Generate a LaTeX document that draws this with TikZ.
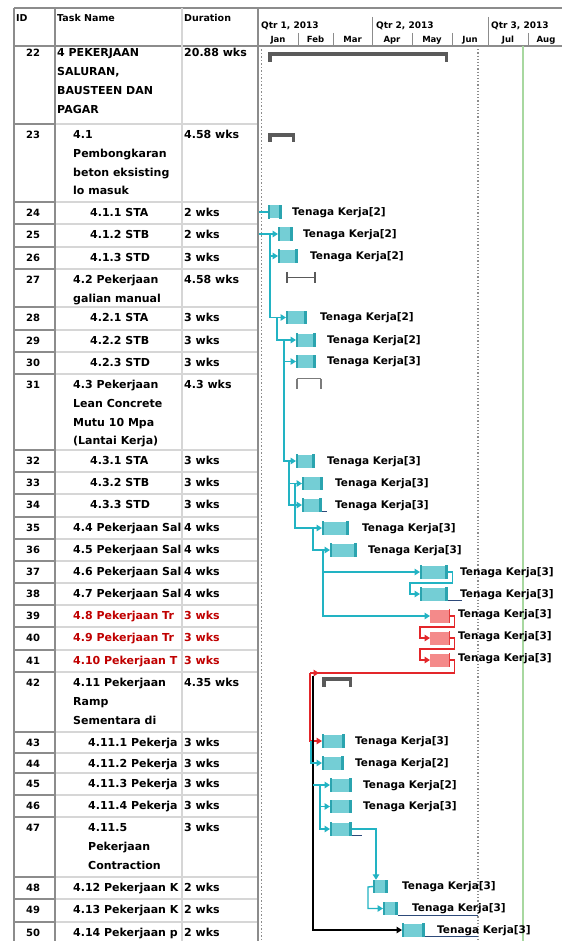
\documentclass[tikz,border=0pt]{standalone}
\usepackage{fontspec}
\setmainfont{DejaVu Sans}
\usetikzlibrary{arrows.meta}
\definecolor{tealfill}{HTML}{74CED5}
\definecolor{tealdark}{HTML}{2BA4AF}
\definecolor{tealline}{HTML}{22B3C3}
\definecolor{redfill}{HTML}{F48A8A}
\definecolor{reddark}{HTML}{E23B3B}
\definecolor{redline}{HTML}{E3262A}
\definecolor{redtext}{HTML}{C00000}
\definecolor{sumgray}{HTML}{5A5A5A}
\definecolor{gridlight}{HTML}{D6D6D6}
\definecolor{griddark}{HTML}{8C8C8C}
\definecolor{greenline}{HTML}{A8D8A0}
\definecolor{slate}{HTML}{2D4A7A}
\newcommand\gbar[5]{\node[#5, minimum width={(#3-#2)*1pt}] (#1) at (#2,#4) {};}
\begin{document}
\begin{tikzpicture}[x=1pt,y=-1pt,
  gridl/.style={draw=gridlight, line width=1.2pt},
  gridd/.style={draw=griddark, line width=1.5pt},
  cell/.style={font=\fontsize{11}{13}\selectfont\bfseries, anchor=base west, inner sep=0},
  idc/.style={font=\fontsize{10}{12}\selectfont\bfseries, anchor=base, inner sep=0},
  hdr/.style={font=\fontsize{9.5}{11}\selectfont\bfseries, anchor=base west, inner sep=0},
  qhdr/.style={font=\fontsize{9}{10}\selectfont\bfseries, anchor=base west, inner sep=0},
  mhdr/.style={font=\fontsize{8.5}{9}\selectfont\bfseries, anchor=base, inner sep=0},
  lab/.style={font=\fontsize{10.5}{12}\selectfont\bfseries, anchor=base west, inner sep=0},
  tbarsty/.style={fill=tealfill, inner sep=0, minimum height=13pt, anchor=west},
  rbarsty/.style={fill=redfill, inner sep=0, minimum height=13pt, anchor=west},
  tconn/.style={draw=tealline, line width=1.4pt, -{Triangle[length=5.5pt,width=6.5pt]}},
  tline/.style={draw=tealline, line width=1.4pt},
  rconn/.style={draw=redline, line width=1.4pt, -{Triangle[length=5.5pt,width=6.5pt]}},
  rline/.style={draw=redline, line width=1.4pt},
  kconn/.style={draw=black, line width=1.4pt, -{Triangle[length=5.5pt,width=6.5pt]}},
  slack/.style={draw=slate, line width=1.3pt},
  sumbar/.style={fill=sumgray, inner sep=0, minimum height=4pt, anchor=north west}
]
\useasboundingbox (0,0) rectangle (562,941);
\fill[white] (0,0) rectangle (562,941);
\begin{scope}
\clip (0,0) rectangle (562,941);
% ---------- grid ----------
\foreach \y in {124,202,224,247,269,307,330,352,374,450,472,494,517,539,561,583,605,627,650,672,732,753,773,795,817,877,899,922}{
  \draw[gridl] (55,\y) -- (258,\y);
  \draw[gridd] (14,\y) -- (55,\y);
}
\draw[gridd] (14,8) -- (562,8);
\draw[gridd] (14,46) -- (562,46);
\draw[gridd] (14,8) -- (14,941);
\draw[gridd] (55,8) -- (55,941);
\draw[gridl] (182,8) -- (182,941);
\draw[gridd] (258,8) -- (258,941);
\draw[griddark, dotted, line width=1.5pt] (261.5,46) -- (261.5,941);
% timescale separators
\foreach \x in {298,333,412,452,528}{ \draw[griddark, line width=0.8pt] (\x,33) -- (\x,46); }
\foreach \x in {372,488}{ \draw[griddark, line width=0.8pt] (\x,17) -- (\x,46); }
% reference lines
\draw[griddark, dotted, line width=1.2pt] (478,46) -- (478,941);
\draw[greenline, line width=1.5pt] (523,46) -- (523,941);
% ---------- headers ----------
\node[hdr] (hid) at (16,22) {ID};
\node[hdr] (htask) at (57,22) {Task Name};
\node[hdr] (hdur) at (184,22) {Duration};
\node[qhdr] (q1) at (261,29) {Qtr 1, 2013};
\node[qhdr] (q2) at (376,29) {Qtr 2, 2013};
\node[qhdr] (q3) at (491,29) {Qtr 3, 2013};
\foreach \m/\x in {Jan/278,Feb/315.5,Mar/352.5,Apr/392,May/432,Jun/470,Jul/508,Aug/546}{
  \node[mhdr] (m\m) at (\x,43) {\m};
}
% ---------- IDs and durations ----------
\foreach \i/\y/\d in {22/57/20.88 wks,23/138.5/4.58 wks,24/216.5/2 wks,25/238.5/2 wks,26/261.5/3 wks,
  27/283.5/4.58 wks,28/321.5/3 wks,29/344.5/3 wks,30/366.5/3 wks,31/388.5/4.3 wks,32/464.5/3 wks,
  33/486.5/3 wks,34/508.5/3 wks,35/531.5/4 wks,36/553.5/4 wks,37/575.5/4 wks,38/597.5/4 wks,
  42/686.5/4.35 wks,43/746.5/3 wks,44/767.5/3 wks,45/787.5/3 wks,46/809.5/3 wks,47/831.5/3 wks,
  48/891.5/2 wks,49/913.5/2 wks,50/936.5/2 wks}{
  \node[idc] (id\i) at (33,\y) {\i};
  \node[cell] (du\i) at (184,\y) {\d};
}
\foreach \i/\y in {39/619.5,40/641.5,41/664.5}{
  \node[idc] (id\i) at (33,\y) {\i};
  \node[cell, text=redtext] (du\i) at (184,\y) {3 wks};
}
% ---------- task names ----------
\node[cell] (n22a) at (57,57) {4 PEKERJAAN};
\node[cell] (n22b) at (57,75.8) {SALURAN,};
\node[cell] (n22c) at (57,94.6) {BAUSTEEN DAN};
\node[cell] (n22d) at (57,113.4) {PAGAR};
\node[cell] (n23a) at (73,138.5) {4.1};
\node[cell] (n23b) at (73,157.3) {Pembongkaran};
\node[cell] (n23c) at (73,176.1) {beton eksisting};
\node[cell] (n23d) at (73,194.9) {lo masuk};
\node[cell] (n24) at (90,216.5) {4.1.1 STA};
\node[cell] (n25) at (90,238.5) {4.1.2 STB};
\node[cell] (n26) at (90,261.5) {4.1.3 STD};
\node[cell] (n27a) at (73,283.5) {4.2 Pekerjaan};
\node[cell] (n27b) at (73,302.3) {galian manual};
\node[cell] (n28) at (90,321.5) {4.2.1 STA};
\node[cell] (n29) at (90,344.5) {4.2.2 STB};
\node[cell] (n30) at (90,366.5) {4.2.3 STD};
\node[cell] (n31a) at (73,388.5) {4.3 Pekerjaan};
\node[cell] (n31b) at (73,407.3) {Lean Concrete};
\node[cell] (n31c) at (73,426.1) {Mutu 10 Mpa};
\node[cell] (n31d) at (73,444.9) {(Lantai Kerja)};
\node[cell] (n32) at (90,464.5) {4.3.1 STA};
\node[cell] (n33) at (90,486.5) {4.3.2 STB};
\node[cell] (n34) at (90,508.5) {4.3.3 STD};
\node[cell] (n35) at (73,531.5) {4.4 Pekerjaan Sal};
\node[cell] (n36) at (73,553.5) {4.5 Pekerjaan Sal};
\node[cell] (n37) at (73,575.5) {4.6 Pekerjaan Sal};
\node[cell] (n38) at (73,597.5) {4.7 Pekerjaan Sal};
\node[cell, text=redtext] (n39) at (73,619.5) {4.8 Pekerjaan Tr};
\node[cell, text=redtext] (n40) at (73,641.5) {4.9 Pekerjaan Tr};
\node[cell, text=redtext] (n41) at (73,664.5) {4.10 Pekerjaan T};
\node[cell] (n42a) at (73,686.5) {4.11 Pekerjaan};
\node[cell] (n42b) at (73,705.3) {Ramp};
\node[cell] (n42c) at (73,724.1) {Sementara di};
\node[cell] (n43) at (88,746.5) {4.11.1 Pekerja};
\node[cell] (n44) at (88,767.5) {4.11.2 Pekerja};
\node[cell] (n45) at (88,787.5) {4.11.3 Pekerja};
\node[cell] (n46) at (88,809.5) {4.11.4 Pekerja};
\node[cell] (n47a) at (88,831.5) {4.11.5};
\node[cell] (n47b) at (88,850.3) {Pekerjaan};
\node[cell] (n47c) at (88,869.1) {Contraction};
\node[cell] (n48) at (73,891.5) {4.12 Pekerjaan K};
\node[cell] (n49) at (73,913.5) {4.13 Pekerjaan K};
\node[cell] (n50) at (73,936.5) {4.14 Pekerjaan p};
% ---------- summary bars ----------
\node[sumbar, minimum width=180pt] (s22) at (268,52) {};
\fill[sumgray] (s22.north west) rectangle ++(3.5,10);
\fill[sumgray] (s22.north east) rectangle ++(-3.5,10);
\node[sumbar, minimum width=27pt] (s23) at (268,133) {};
\fill[sumgray] (s23.north west) rectangle ++(3.5,9);
\fill[sumgray] (s23.north east) rectangle ++(-3.5,9);
\node[sumbar, minimum width=30pt] (s42) at (322,677) {};
\fill[sumgray] (s42.north west) rectangle ++(3.5,10);
\fill[sumgray] (s42.north east) rectangle ++(-3.5,10);
\node[inner sep=0, minimum width=28pt, minimum height=11pt] (s27) at (301,277.5) {};
\draw[sumgray, line width=1.6pt] (s27.west) -- (s27.east);
\draw[sumgray, line width=2.2pt] (s27.north west) -- (s27.south west);
\draw[sumgray, line width=2.2pt] (s27.north east) -- (s27.south east);
\node[inner sep=0, minimum width=24pt, minimum height=10pt] (s31) at (309,384) {};
\draw[sumgray!80, line width=1.2pt] (s31.north west) -- (s31.north east);
\draw[sumgray!80, line width=1.6pt] (s31.north west) -- (s31.south west);
\draw[sumgray!80, line width=1.6pt] (s31.north east) -- (s31.south east);
% ---------- task bars ----------
\gbar{b24}{268}{282}{212}{tbarsty}
\gbar{b25}{278}{293}{234}{tbarsty}
\gbar{b26}{278}{298}{256}{tbarsty}
\gbar{b28}{286}{307}{317.5}{tbarsty}
\gbar{b29}{296}{316}{340}{tbarsty}
\gbar{b30}{296}{316}{361.5}{tbarsty}
\gbar{b32}{296}{315}{461}{tbarsty}
\gbar{b33}{302}{323}{483.5}{tbarsty}
\gbar{b34}{302}{322}{505}{tbarsty}
\gbar{b35}{322}{349}{528}{tbarsty}
\gbar{b36}{330}{357}{550}{tbarsty}
\gbar{b37}{420}{448}{572}{tbarsty}
\gbar{b38}{420}{448}{594}{tbarsty}
\gbar{r39}{430}{450}{616}{rbarsty}
\gbar{r40}{430}{450}{638}{rbarsty}
\gbar{r41}{430}{450}{660}{rbarsty}
\gbar{b43}{322}{345}{741}{tbarsty}
\gbar{b44}{322}{344}{763}{tbarsty}
\gbar{b45}{330}{352}{785}{tbarsty}
\gbar{b46}{330}{352}{806.5}{tbarsty}
\gbar{b47}{330}{352}{829}{tbarsty}
\gbar{b48}{373}{388}{886.5}{tbarsty}
\gbar{b49}{383}{398}{908.5}{tbarsty}
\gbar{b50}{402}{425}{930}{tbarsty}
\foreach \b in {b24,b25,b26,b28,b29,b30,b32,b33,b34,b35,b36,b37,b38,b43,b44,b45,b46,b47,b48,b49,b50}{
  \fill[tealdark] (\b.north east) rectangle ([xshift=-3pt]\b.south east);
  \fill[tealdark] (\b.north west) rectangle ([xshift=1.5pt]\b.south west);
}
\foreach \b in {r39,r40,r41}{
  \fill[reddark] (\b.north east) rectangle ([xshift=-1.5pt]\b.south east);
}
% ---------- resource labels ----------
\node[lab] (l24) at (292,215) {Tenaga Kerja[2]};
\node[lab] (l25) at (303,237) {Tenaga Kerja[2]};
\node[lab] (l26) at (310,259) {Tenaga Kerja[2]};
\node[lab] (l28) at (320,320.5) {Tenaga Kerja[2]};
\node[lab] (l29) at (327,343) {Tenaga Kerja[2]};
\node[lab] (l30) at (327,364.5) {Tenaga Kerja[3]};
\node[lab] (l32) at (327,464) {Tenaga Kerja[3]};
\node[lab] (l33) at (335,486.5) {Tenaga Kerja[3]};
\node[lab] (l34) at (335,508) {Tenaga Kerja[3]};
\node[lab] (l35) at (362,531) {Tenaga Kerja[3]};
\node[lab] (l36) at (368,553) {Tenaga Kerja[3]};
\node[lab] (l37) at (460,575) {Tenaga Kerja[3]};
\node[lab] (l38) at (460,597) {Tenaga Kerja[3]};
\node[lab] (l39) at (458,617) {Tenaga Kerja[3]};
\node[lab] (l40) at (458,639) {Tenaga Kerja[3]};
\node[lab] (l41) at (458,661) {Tenaga Kerja[3]};
\node[lab] (l43) at (355,744) {Tenaga Kerja[3]};
\node[lab] (l44) at (355,766) {Tenaga Kerja[2]};
\node[lab] (l45) at (363,788) {Tenaga Kerja[2]};
\node[lab] (l46) at (363,809.5) {Tenaga Kerja[3]};
\node[lab] (l48) at (402,889.5) {Tenaga Kerja[3]};
\node[lab] (l49) at (412,911.5) {Tenaga Kerja[3]};
\node[lab] (l50) at (437,933) {Tenaga Kerja[3]};
% ---------- slack lines ----------
\draw[slack] (b34.south east) -- ++(5,0);
\draw[slack] (b38.south east) -- ++(14,0);
\draw[slack] (b47.south east) -- ++(10,0);
\draw[slack] (b49.south east) -- ++(80,0);
\draw[slack] (b50.south east) -- ++(53,0);
% ---------- teal connectors ----------
\coordinate (e24) at (259,212);
\draw[tline] (e24) -- (b24.west);
\coordinate (e25) at (259,234);
\coordinate (v1) at (270,234);
\draw[tline] (e25) -- (v1);
\draw[tconn] (v1) -- (b25.west);
\draw[tconn] (v1) |- (b26.west);
\draw[tconn] (v1) |- (b28.west);
\coordinate (v2) at (277,317.5);
\draw[tconn] (v2) |- (b29.west);
\coordinate (v3) at (284,340);
\draw[tconn] (v3) |- (b30.west);
\draw[tconn] (v3) |- (b32.west);
\coordinate (v4) at (289,461);
\draw[tconn] (v4) |- (b33.west);
\draw[tconn] (v4) |- (b34.west);
\coordinate (v5) at (295,483.5);
\draw[tconn] (v5) |- (b35.west);
\coordinate (v6) at (313,528);
\draw[tconn] (v6) |- (b36.west);
\coordinate (v7) at (323,550);
\draw[tconn] (v7) |- (b37.west);
\draw[tconn] (v7) |- (r39.west);
\coordinate (k1) at (410,583);
\draw[tconn] (b37.east) -- ++(4,0) |- (k1) |- (b38.west);
% ---------- red connectors ----------
\coordinate (rk1) at (420,627);
\draw[rconn] (r39.east) -- ++(4,0) |- (rk1) |- (r40.west);
\coordinate (rk2) at (420,649);
\draw[rconn] (r40.east) -- ++(4,0) |- (rk2) |- (r41.west);
\coordinate (rk3) at (310,673);
\draw[rline] (r41.east) -- ++(4,0) |- (rk3);
\draw[rconn] (rk3) |- (b43.west);
\coordinate (rk4) at (319,673);
\draw[rconn] (rk3) -- (rk4);
% ---------- black connector ----------
\coordinate (bk) at (313,676);
\draw[kconn] (bk) |- (b50.west);
% ---------- teal connectors (4.11) ----------
\coordinate (v8) at (311,741);
\draw[tconn] (v8) |- (b44.west);
\coordinate (v9) at (313,785);
\coordinate (v9b) at (320,785);
\draw[tline] (v9) -- (v9b);
\draw[tconn] (v9b) -- (b45.west);
\draw[tconn] (v9b) |- (b46.west);
\draw[tconn] (v9b) |- (b47.west);
\draw[tconn] (b47.east) -| ([xshift=3pt]b48.north west);
\coordinate (v10) at (368,887);
\draw[tconn] (b48.west) -- (v10) |- (b49.west);
\end{scope}
\end{tikzpicture}
\end{document}
